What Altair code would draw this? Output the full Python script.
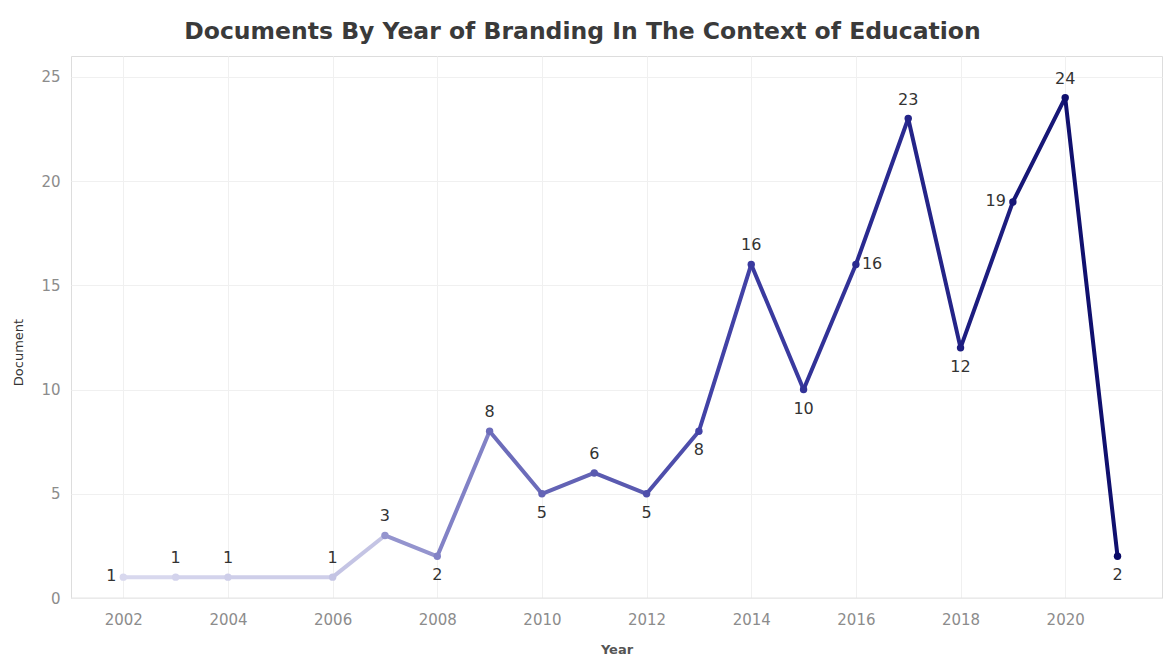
import altair as alt
import pandas as pd

years = [2002, 2003, 2004, 2006, 2007, 2008, 2009, 2010, 2011, 2012,
         2013, 2014, 2015, 2016, 2017, 2018, 2019, 2020, 2021]
docs = [1, 1, 1, 1, 3, 2, 8, 5, 6, 5, 8, 16, 10, 16, 23, 12, 19, 24, 2]

label_above = [2003, 2004, 2006, 2007, 2009, 2011, 2014, 2017, 2020]
label_below = [2008, 2010, 2012, 2013, 2015, 2018, 2021]
label_left = [2002, 2019]
label_right = [2016]

color_stops = [2002, 2006, 2007, 2008, 2009, 2011, 2013, 2016, 2020]
color_range = ["#d8d8ee", "#c4c4e4", "#9494ce", "#8282c6", "#6c6cba",
               "#5a5ab0", "#4242a6", "#2a2a90", "#10106e"]

pts = pd.DataFrame({"Year": years, "Document": docs})
seg = pd.DataFrame({
    "Year": years[:-1], "Year2": years[1:],
    "Document": docs[:-1], "Document2": docs[1:],
})

FONT = "DejaVu Sans"
W, H = 1091, 542

xscale = alt.Scale(domain=[2001, 2021.85], nice=False, zero=False)
yscale = alt.Scale(domain=[0, 26], nice=False)
cscale = alt.Scale(domain=color_stops, range=color_range, interpolate="rgb")

xaxis = alt.Axis(values=list(range(2002, 2022, 2)), format="d", title="Year",
                 grid=True, gridColor="#f0f0f0", domain=False, ticks=False,
                 labelColor="#8c8c8c", labelFontSize=15, labelFont=FONT,
                 labelPadding=14, titleFont=FONT, titleFontSize=13,
                 titleFontWeight="bold", titleColor="#555555", titlePadding=16)
yaxis = alt.Axis(values=[0, 5, 10, 15, 20, 25], title="Document",
                 grid=True, gridColor="#f0f0f0", domain=False, ticks=False,
                 labelColor="#8c8c8c", labelFontSize=15, labelFont=FONT,
                 labelPadding=11, titleFont=FONT, titleFontSize=13,
                 titleFontWeight="normal", titleColor="#333333",
                 titleX=-53, titleY=296, titleAngle=-90, titleAlign="center",
                 titleBaseline="middle")

base_x = alt.X("Year:Q", scale=xscale, axis=xaxis)
base_y = alt.Y("Document:Q", scale=yscale, axis=yaxis)

baseline = alt.Chart(pd.DataFrame({"v": [0]})).mark_rule(
    color="#e4e4e4", strokeWidth=1).encode(y=alt.Y("v:Q", scale=yscale))

lines = alt.Chart(seg).mark_rule(strokeWidth=4, strokeCap="round").encode(
    x=base_x, x2="Year2:Q", y=base_y, y2="Document2:Q",
    color=alt.Color("Year:Q", scale=cscale, legend=None),
)

points = alt.Chart(pts).mark_circle(size=55, opacity=1).encode(
    x=base_x, y=base_y,
    color=alt.Color("Year:Q", scale=cscale, legend=None),
)

def labels(yrs, **kw):
    return alt.Chart(pts).transform_filter(
        alt.FieldOneOfPredicate(field="Year", oneOf=yrs)
    ).mark_text(font=FONT, fontSize=16, color="#333333", **kw).encode(
        x=base_x, y=base_y, text="Document:Q")

lab = (labels(label_above, dy=-19, baseline="middle")
       + labels(label_below, dy=19, baseline="middle")
       + labels(label_left, dx=-7, align="right", baseline="middle", dy=-1)
       + labels(label_right, dx=6, align="left", baseline="middle"))

chart = alt.layer(baseline, lines, points, lab).properties(
    width=W, height=H,
    title=alt.TitleParams(
        "Documents By Year of Branding In The Context of Education",
        font=FONT, fontSize=23.5, fontWeight="bold", color="#3a3a3a",
        anchor="middle", dx=-34, offset=13),
    autosize=alt.AutoSizeParams(type="none"),
    padding={"left": 71, "top": 56, "right": 4, "bottom": 59},
).configure_view(stroke="transparent").configure(background="white")

chart.save("out.html", embed_options={"renderer": "svg", "actions": False})
